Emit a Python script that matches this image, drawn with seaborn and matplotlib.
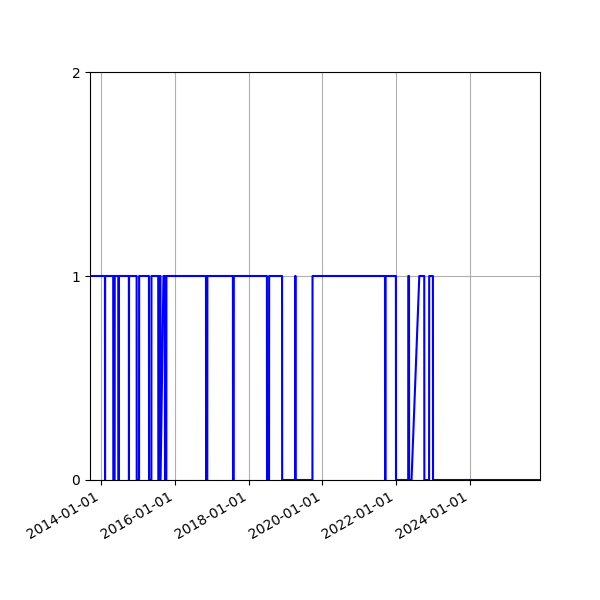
import pandas as pd
import matplotlib
matplotlib.use("Agg")
import matplotlib.pyplot as plt
import matplotlib.dates as mdates
import seaborn as sns

# =============================
# DATA (corner points of the 0/1 signal)
# =============================
dates = [
    "2013-09-12",
    "2014-02-07", "2014-02-08", "2014-02-09",
    "2014-04-30", "2014-05-01", "2014-05-14", "2014-05-15",
    "2014-06-22", "2014-06-23", "2014-06-24",
    "2014-10-02", "2014-10-03", "2014-10-04",
    "2014-12-18", "2014-12-19", "2015-01-11", "2015-01-12",
    "2015-04-19", "2015-04-20", "2015-05-13", "2015-05-14",
    "2015-07-20", "2015-07-21", "2015-08-04", "2015-08-05",
    "2015-08-11", "2015-08-12", "2015-09-10",
    "2015-09-24", "2015-09-25", "2015-10-08", "2015-10-09",
    "2016-11-04", "2016-11-05", "2016-11-17", "2016-11-18",
    "2017-07-29", "2017-07-30", "2017-08-06", "2017-08-07",
    "2018-07-01", "2018-07-02", "2018-07-22", "2018-07-23",
    "2018-11-28", "2018-11-29",
    "2019-04-06", "2019-04-07", "2019-04-11", "2019-04-12",
    "2019-09-25", "2019-09-26",
    "2021-09-13", "2021-09-14", "2021-09-18", "2021-09-19",
    "2021-12-30", "2021-12-31",
    "2022-05-01", "2022-05-02", "2022-05-09", "2022-05-10",
    "2022-06-03", "2022-08-19",
    "2022-10-07", "2022-10-08",
    "2022-11-24", "2022-11-25",
    "2023-01-01", "2023-01-02",
    "2025-11-27",
]
values = [
    1,
    1, 0, 1,
    1, 0, 0, 1,
    1, 0, 1,
    1, 0, 1,
    1, 0, 0, 1,
    1, 0, 0, 1,
    1, 0, 0, 1,
    1, 0, 1,
    1, 0, 0, 1,
    1, 0, 0, 1,
    1, 0, 0, 1,
    1, 0, 0, 1,
    1, 0,
    0, 1, 1, 0,
    0, 1,
    1, 0, 0, 1,
    1, 0,
    0, 1, 1, 0,
    0, 1,
    1, 0,
    0, 1,
    1, 0,
    0,
]
tick_dates = ["2014-01-01", "2016-01-01", "2018-01-01",
              "2020-01-01", "2022-01-01", "2024-01-01"]
y_ticks = [0, 1, 2]

df = pd.DataFrame({"date": pd.to_datetime(dates), "value": values})

# =============================
# PLOT
# =============================
fig, ax = plt.subplots(figsize=(6, 6), dpi=100)
sns.lineplot(data=df, x="date", y="value", color="blue", linewidth=1.5,
             estimator=None, sort=False, ax=ax)

ax.set_xlim(df["date"].min(), df["date"].max())
ax.set_ylim(0, 2)
ax.set_yticks(y_ticks)
ax.set_xticks(pd.to_datetime(tick_dates))
ax.xaxis.set_major_formatter(mdates.DateFormatter("%Y-%m-%d"))
ax.set_xlabel("")
ax.set_ylabel("")
ax.grid(True)

fig.autofmt_xdate()
fig.subplots_adjust(left=0.15, right=0.9, top=0.88, bottom=0.2)
fig.savefig("out.png", dpi=100)
